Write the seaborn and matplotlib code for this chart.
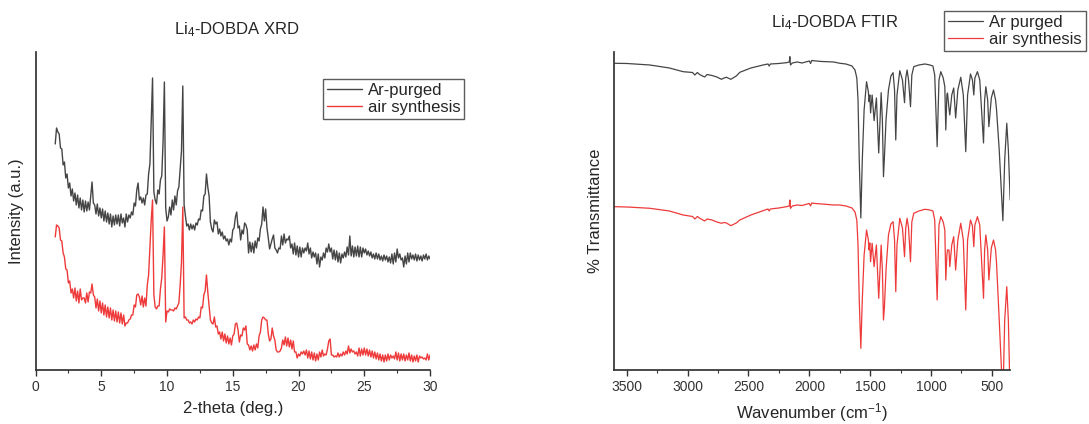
import numpy as np
import pandas as pd
import seaborn as sns
import matplotlib.pyplot as plt
from matplotlib.ticker import MultipleLocator

# XRD, 2-theta from 1.5 to 30.0 deg in 0.1 steps (intensity in arbitrary units)
two_theta = np.round(np.arange(1.5, 30.01, 0.1), 2)

xrd_ar = [
    226, 242, 238, 236, 222,
    221, 205, 208, 192, 196, 182, 187, 174, 181, 169,
    177, 165, 175, 162, 172, 160, 170, 158, 169, 159,
    168, 160, 174, 188, 167, 165, 156, 166, 154, 162,
    152, 161, 149, 159, 148, 157, 146, 156, 143, 154,
    145, 155, 146, 155, 144, 156, 147, 152, 143, 156,
    148, 155, 152, 158, 155, 167, 164, 180, 187, 170,
    173, 167, 172, 165, 175, 176, 196, 206, 250, 292,
    178, 170, 166, 180, 176, 190, 194, 228, 288, 162,
    149, 153, 163, 155, 170, 160, 174, 165, 179, 183,
    201, 219, 284, 165, 154, 144, 146, 140, 146, 141,
    145, 140, 147, 145, 151, 150, 160, 159, 174, 176,
    196, 183, 174, 148, 141, 138, 150, 146, 148, 136,
    141, 134, 138, 131, 134, 129, 131, 125, 131, 128,
    140, 142, 153, 158, 142, 144, 130, 140, 136, 147,
    145, 140, 117, 128, 118, 127, 117, 129, 122, 132,
    129, 141, 146, 163, 149, 161, 142, 132, 121, 126,
    131, 135, 122, 120, 117, 122, 121, 134, 125, 136,
    127, 131, 130, 134, 122, 126, 116, 127, 115, 124,
    113, 123, 113, 122, 117, 122, 119, 127, 116, 122,
    112, 118, 113, 117, 106, 116, 103, 113, 110, 117,
    112, 122, 118, 126, 118, 122, 111, 120, 110, 119,
    108, 117, 107, 116, 112, 118, 113, 123, 115, 134,
    114, 124, 113, 123, 114, 124, 113, 123, 113, 122,
    117, 121, 115, 119, 114, 118, 112, 116, 111, 117,
    111, 116, 110, 114, 109, 115, 110, 114, 108, 113,
    107, 116, 106, 117, 108, 121, 112, 116, 110, 112,
    103, 114, 106, 117, 108, 117, 111, 115, 110, 116,
    109, 115, 110, 114, 109, 115, 111, 116, 110, 114,
    111,
]

xrd_air = [
    133, 145, 144, 142, 130,
    129, 117, 113, 101, 100, 87, 89, 77, 81, 72,
    82, 69, 79, 67, 81, 70, 72, 72, 67, 77,
    68, 78, 77, 86, 75, 73, 62, 71, 59, 69,
    57, 67, 55, 65, 53, 63, 52, 62, 50, 60,
    49, 59, 48, 58, 47, 57, 46, 55, 44, 47,
    47, 50, 51, 55, 55, 65, 63, 75, 76, 73,
    65, 74, 63, 72, 64, 85, 95, 123, 150, 170,
    75, 63, 61, 64, 64, 81, 92, 115, 143, 48,
    59, 58, 61, 60, 60, 59, 62, 61, 64, 67,
    85, 108, 163, 52, 53, 50, 50, 47, 48, 46,
    50, 48, 51, 50, 53, 52, 63, 62, 75, 79,
    95, 78, 64, 50, 47, 46, 53, 43, 44, 36,
    38, 31, 38, 29, 36, 27, 34, 26, 32, 25,
    34, 36, 46, 47, 40, 28, 35, 34, 42, 40,
    44, 26, 25, 20, 24, 19, 25, 20, 26, 22,
    34, 38, 50, 53, 52, 50, 50, 36, 29, 31,
    42, 34, 30, 20, 18, 18, 19, 22, 30, 25,
    33, 24, 32, 23, 30, 21, 29, 18, 18, 12,
    16, 14, 18, 16, 19, 15, 20, 12, 19, 11,
    18, 10, 17, 9, 16, 10, 18, 13, 20, 14,
    16, 15, 21, 29, 31, 15, 15, 13, 14, 13,
    17, 13, 16, 14, 18, 15, 19, 16, 24, 17,
    21, 18, 19, 16, 18, 14, 22, 14, 21, 15,
    22, 15, 21, 14, 20, 13, 19, 12, 18, 11,
    17, 10, 16, 9, 15, 8, 15, 9, 16, 10,
    15, 12, 14, 11, 18, 10, 17, 9, 16, 10,
    16, 9, 15, 10, 17, 9, 15, 8, 14, 9,
    15, 8, 14, 12, 13, 11, 12, 10, 16, 10,
    15,
]

# FTIR, wavenumber (cm-1) and transmittance (arbitrary offset units)
wavenumber = [
    3605, 3500, 3311, 3150, 3037, 2960, 2940, 2920, 2900, 2860, 2840, 2800,
    2760, 2722, 2700, 2681, 2645, 2600, 2571, 2480, 2380, 2340, 2330, 2320,
    2250, 2188, 2165, 2160, 2155, 2140, 2100, 2060, 2000, 1990, 1980, 1969,
    1900, 1800, 1750, 1700, 1650, 1625, 1610, 1600, 1590, 1577, 1565, 1550,
    1530, 1515, 1509, 1503, 1497, 1484, 1468, 1449, 1430, 1410, 1400, 1391,
    1383, 1370, 1350, 1330, 1312, 1300, 1290, 1280, 1257, 1235, 1218, 1208,
    1197, 1185, 1169, 1158, 1142, 1100, 1050, 1010, 985, 970, 950, 935,
    920, 900, 887, 879, 870, 865, 853, 846, 830, 814, 798, 780,
    756, 735, 715, 700, 676, 660, 649, 640, 619, 600, 569, 560,
    550, 535, 525, 505, 487, 470, 462, 440, 410, 395, 378, 365, 350,
]

ftir_ar = [
    306.7, 306.5, 305, 302, 298.3, 297.5, 295, 297.5, 295.3, 293, 295.5, 294.5,
    293, 290.7, 292, 292.7, 290.7, 294, 297.7, 302, 305, 306, 304, 306,
    306.5, 307.3, 308, 313.3, 305, 307, 308, 307, 309, 306.5, 309.5, 309.3,
    308.5, 308, 306.7, 306, 304, 300, 292, 270, 210, 152, 210, 260,
    288.3, 278, 268.3, 275, 257, 275, 249.3, 272, 217, 277.3, 250, 193.3,
    213.3, 250, 280, 294, 297.3, 280, 230, 275, 299.3, 290, 267.3, 292,
    300, 290, 263.3, 295, 303.3, 305, 306, 305, 304, 295, 223.3, 290,
    298.3, 292, 283.3, 240, 275, 277, 262, 255, 275, 282, 252, 280,
    292.7, 275, 218.3, 275, 296, 290, 275, 292, 298.3, 290, 227, 270,
    283.3, 270, 243.3, 272, 280, 270, 260, 220, 149.3, 210, 246.7, 220, 170,
]

ftir_air = [
    163.3, 163, 161.7, 159, 155, 153.5, 151, 153.5, 151.7, 149, 151, 150,
    148, 146.7, 147.5, 147, 144.3, 147, 150, 155, 159.3, 161, 159, 161,
    162, 163.3, 164, 170, 161.7, 164, 165, 164.5, 166.5, 164, 167, 166.7,
    166, 165, 165, 164, 162, 158, 150, 125, 70, 21.7, 70, 115,
    140, 130, 120, 127, 108.3, 126.7, 103.3, 125, 71.7, 125, 100, 50,
    63.3, 100, 135, 146, 148.3, 130, 78.3, 125, 151.7, 142, 113.3, 142,
    151.7, 142, 108.3, 148, 156.7, 159, 160.7, 160, 159, 150, 70, 145,
    153.3, 148, 140, 90, 115, 120, 120, 103.3, 125, 133.3, 100, 130,
    146.7, 130, 60, 130, 150, 144, 123.3, 145, 153.3, 145, 71.7, 120,
    135, 120, 90, 122, 130, 120, 106.7, 50, -30, 50, 83.3, 50, -30,
]

series_names = ['Ar-purged', 'air synthesis']
ftir_names = ['Ar purged', 'air synthesis']
colors = ['#454545', '#ee3a3a']

xrd_df = pd.DataFrame({'two_theta': two_theta, 'Ar': xrd_ar, 'air': xrd_air})
ftir_df = pd.DataFrame({'wn': wavenumber, 'Ar': ftir_ar, 'air': ftir_air})

sns.set_theme(style='ticks')
plt.rcParams['font.family'] = ['Liberation Sans', 'DejaVu Sans']
plt.rcParams['mathtext.fontset'] = 'custom'
plt.rcParams['mathtext.rm'] = 'Liberation Sans'
plt.rcParams['mathtext.it'] = 'Liberation Sans:italic'
plt.rcParams['axes.edgecolor'] = '#333333'
plt.rcParams['xtick.color'] = '#333333'

fig = plt.figure(figsize=(10.89, 4.24), dpi=100)
ax1 = fig.add_axes([0.0326, 0.1274, 0.3623, 0.75])
ax2 = fig.add_axes([0.5638, 0.1274, 0.3636, 0.75])

legend_kw = dict(loc='upper left', bbox_transform=fig.transFigure, fontsize=12,
                 frameon=True, fancybox=False, edgecolor='#333333', handlelength=2.1,
                 handletextpad=0.35, labelspacing=0.1, borderpad=0.25, borderaxespad=0)

# XRD panel
sns.lineplot(data=xrd_df, x='two_theta', y='Ar', ax=ax1, color=colors[0],
             lw=1.0, label=series_names[0], estimator=None)
sns.lineplot(data=xrd_df, x='two_theta', y='air', ax=ax1, color=colors[1],
             lw=1.0, label=series_names[1], estimator=None)
ax1.set_xlim(0, 30)
ax1.set_ylim(0, 318)
ax1.xaxis.set_major_locator(MultipleLocator(5))
ax1.xaxis.set_minor_locator(MultipleLocator(2.5))
ax1.set_xlabel('2-theta (deg.)', fontsize=12, labelpad=5)
ax1.set_ylabel('Intensity (a.u.)', fontsize=12, labelpad=8)
ax1.legend(bbox_to_anchor=(0.2963, 0.8144), **legend_kw)

# FTIR panel
sns.lineplot(data=ftir_df, x='wn', y='Ar', ax=ax2, color=colors[0],
             lw=0.9, label=ftir_names[0], estimator=None)
sns.lineplot(data=ftir_df, x='wn', y='air', ax=ax2, color=colors[1],
             lw=0.9, label=ftir_names[1], estimator=None)
ax2.set_xlim(3605, 352)
ax2.set_ylim(0, 318)
ax2.xaxis.set_major_locator(MultipleLocator(500))
ax2.xaxis.set_minor_locator(MultipleLocator(250))
ax2.set_xlabel('Wavenumber (cm$^{-1}$)', fontsize=12, labelpad=5)
ax2.set_ylabel('% Transmittance', fontsize=12, labelpad=8)
ax2.legend(bbox_to_anchor=(0.8669, 0.974), **legend_kw)

for ax in (ax1, ax2):
    sns.despine(ax=ax)
    ax.set_yticks([])
    ax.tick_params(axis='x', which='major', length=4, width=1, labelsize=10, direction='out')
    ax.tick_params(axis='x', which='minor', length=2.5, width=0.8, direction='out')
    ax.legend_.get_frame().set_linewidth(1.0)

fig.text(236.7 / 1089, 1 - 30 / 424, 'Li$_4$-DOBDA XRD', ha='center', va='center', fontsize=12)
fig.text(835 / 1089, 1 - 23 / 424, 'Li$_4$-DOBDA FTIR', ha='center', va='center', fontsize=12)

fig.savefig('out.png', dpi=100)
